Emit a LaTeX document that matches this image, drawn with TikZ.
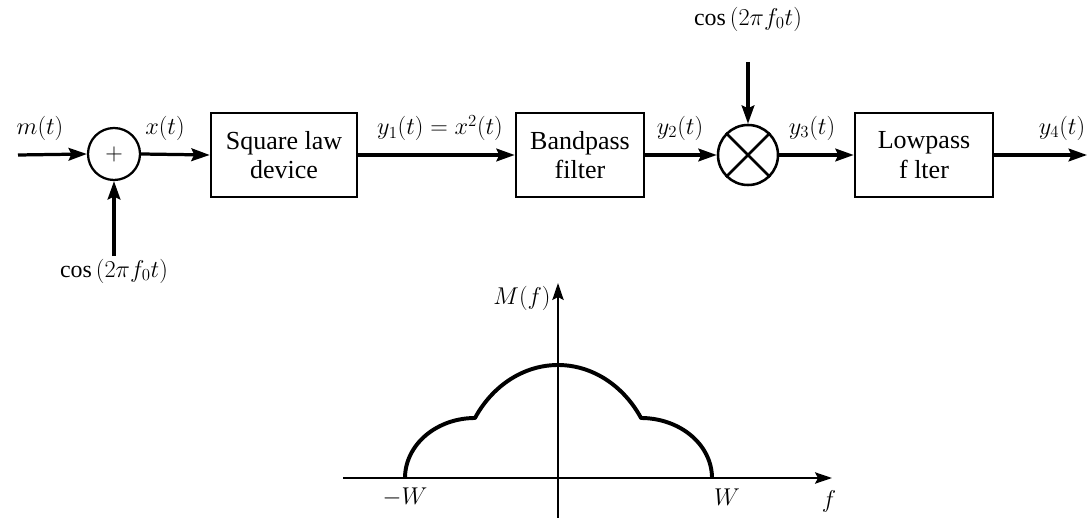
\documentclass[tikz,border=0pt]{standalone}
\usepackage{fontspec}
\setmainfont{Liberation Serif}
\usetikzlibrary{arrows.meta}
\begin{document}
\begin{tikzpicture}[x=0.025cm,y=-0.025cm,
  blk/.style={draw, line width=1.8pt, minimum height=2.1cm, align=center, inner sep=0pt,
    font=\fontsize{18.5}{21}\selectfont},
  sumc/.style={draw, circle, line width=1.6pt, minimum size=1.3cm, inner sep=0pt, font=\fontsize{17}{21}\selectfont},
  mulc/.style={draw, circle, line width=1.8pt, minimum size=1.5cm, inner sep=0pt},
  sig/.style={line width=2.3pt, -{Stealth[length=13pt,width=9pt,inset=2pt]}},
  lbl/.style={font=\fontsize{17}{21}\selectfont, inner sep=0pt},
  axis/.style={line width=1.5pt, -{Stealth[length=12pt,width=8pt,inset=2pt]}},
  spec/.style={line width=2.8pt, line join=round}]
\useasboundingbox (0,0) rectangle (1092,518);
% blocks
\node[sumc] (sum) at (114,154) {$+$};
\node[blk, minimum width=3.65cm] (sq) at (284,155) {Square law\\device};
\node[blk, minimum width=3.2cm] (bp) at (580,155) {Bandpass\\filter};
\node[mulc] (mul) at (748,155) {};
\node[blk, minimum width=3.45cm] (lp) at (924,155) {Lowpass\\f lter};
\draw[line width=1.8pt] (mul.north west) -- (mul.south east);
\draw[line width=1.8pt] (mul.north east) -- (mul.south west);
% free ends
\coordinate (min) at (18,155);
\coordinate (cin) at (114,256);
\coordinate (cin2) at (748,62);
\coordinate (out) at (1087,155);
% connectors
\draw[sig] (min) -- (sum.west);
\draw[sig] (cin) -- (sum.south);
\draw[sig] (sum.east) -- (sq.west);
\draw[sig] (sq.east) -- (bp.west);
\draw[sig] (bp.east) -- (mul.west);
\draw[sig] (cin2) -- (mul.north);
\draw[sig] (mul.east) -- (lp.west);
\draw[sig] (lp.east) -- (out);
% labels
\node[lbl] (lm) at (40,128) {$m(t)$};
\node[lbl] (lx) at (165,128) {$x(t)$};
\node[lbl] (ly1) at (440,128) {$y_1(t) = x^2(t)$};
\node[lbl] (ly2) at (680,128) {$y_2(t)$};
\node[lbl] (ly3) at (812,128) {$y_3(t)$};
\node[lbl] (ly4) at (1062,128) {$y_4(t)$};
\node[lbl] (lc1) at (114,271) {cos\,$(2\pi f_0 t)$};
\node[lbl] (lc2) at (748,19) {cos\,$(2\pi f_0 t)$};
% spectrum
\coordinate (ax0) at (343,478);
\coordinate (ax1) at (832,478);
\coordinate (ay0) at (558,518);
\coordinate (ay1) at (558,283);
\draw[axis] (ax0) -- (ax1);
\draw[axis] (ay0) -- (ay1);
\node[lbl] (lM) at (522,298) {$M(f)$};
\node[lbl] (lmw) at (405,497) {$-W$};
\node[lbl] (lw) at (727,497) {$W$};
\node[lbl] (lf) at (829,501) {$f$};
\draw[spec] plot[domain=180:90, samples=40] ({475+70*cos(\x)},{478-60*sin(\x)})
  -- plot[domain=147.9:32.1, samples=60] ({558+98*cos(\x)},{478-113*sin(\x)})
  -- plot[domain=90:0, samples=40] ({641+71*cos(\x)},{478-60*sin(\x)});
\end{tikzpicture}
\end{document}
